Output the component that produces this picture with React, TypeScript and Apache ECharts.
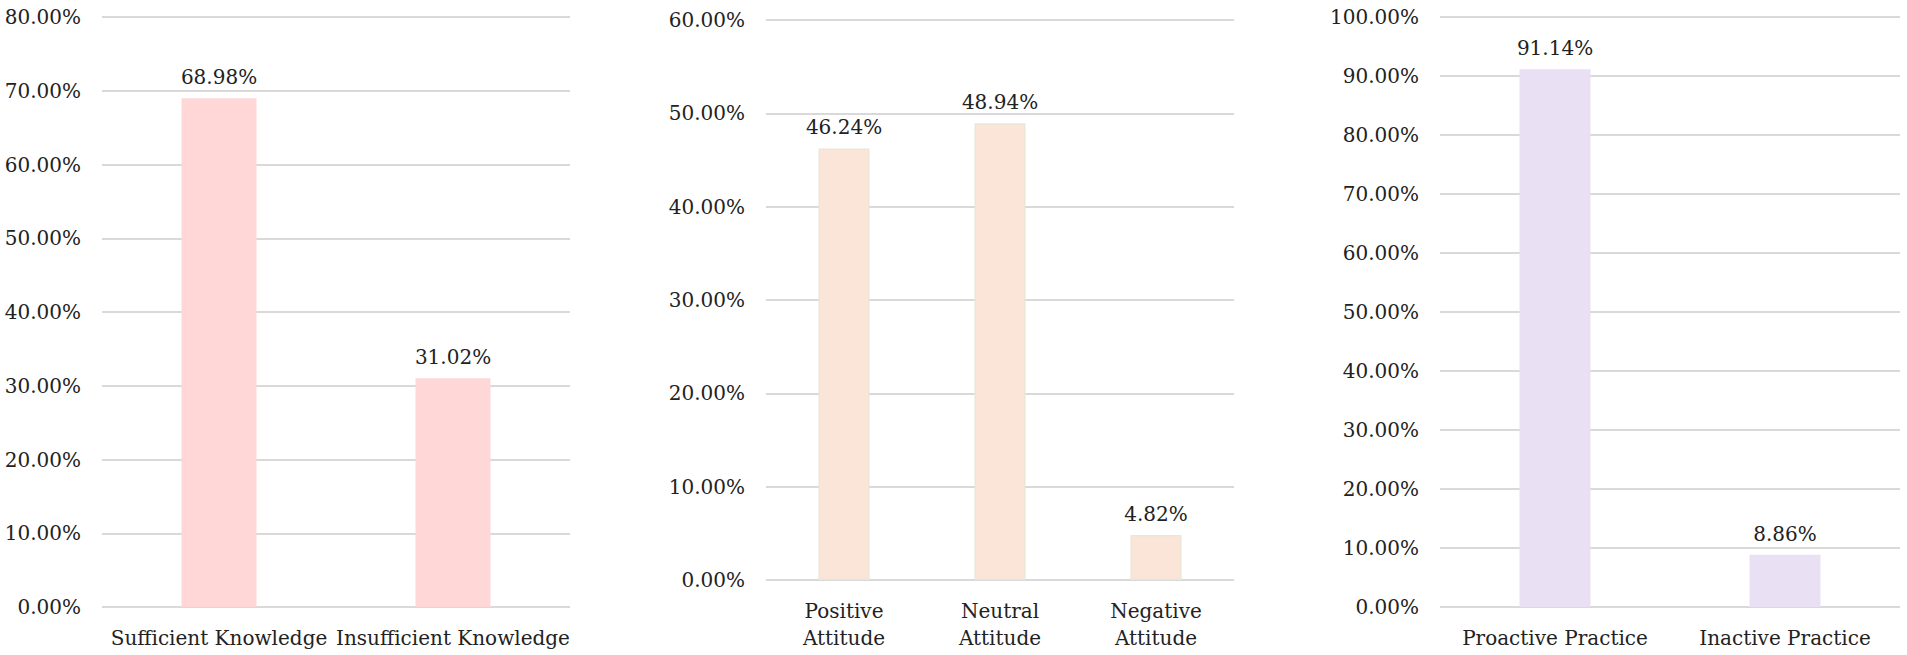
import React, { useEffect, useRef } from "react";
import * as echarts from "echarts";

const knowledgeCategories = ["Sufficient Knowledge", "Insufficient Knowledge"];
const knowledgeValues = [68.98, 31.02];
const attitudeCategories = ["Positive\nAttitude", "Neutral\nAttitude", "Negative\nAttitude"];
const attitudeValues = [46.24, 48.94, 4.82];
const practiceCategories = ["Proactive Practice", "Inactive Practice"];
const practiceValues = [91.14, 8.86];
const axisMaxes = [80, 60, 100];

const FONT = "DejaVu Serif";
const FS = 20;
const TEXT = "#222222";
const GRID = "#d9d9d9";

export default function App() {
  const ref = useRef<HTMLDivElement>(null);
  useEffect(() => {
    document.body.style.margin = "0";
    const chart = echarts.init(ref.current!, null, { renderer: "svg" });
    const grids = [
      { left: 102, top: 17, width: 468, height: 590 },
      { left: 766, top: 20, width: 468, height: 560 },
      { left: 1440, top: 17, width: 460, height: 590 },
    ];
    const cats = [knowledgeCategories, attitudeCategories, practiceCategories];
    const vals = [knowledgeValues, attitudeValues, practiceValues];
    const barWidths = [75, 51, 71];
    const colors = [
      { color: "#ffd7d7", borderColor: "#ffd7d7" },
      { color: "#fbe5d8", borderColor: "#ebe6d6" },
      { color: "#e9e0f4", borderColor: "#e9e0f4" },
    ];
    chart.setOption({
      animation: false,
      textStyle: { fontFamily: FONT },
      grid: grids,
      xAxis: cats.map((c, i) => ({
        type: "category",
        gridIndex: i,
        data: c,
        axisLine: { show: false },
        axisTick: { show: false },
        axisLabel: {
          fontFamily: FONT,
          fontSize: FS,
          color: TEXT,
          margin: 17,
          lineHeight: 27,
          interval: 0,
        },
      })),
      yAxis: axisMaxes.map((m, i) => ({
        type: "value",
        gridIndex: i,
        min: 0,
        max: m,
        interval: 10,
        axisLine: { show: false },
        axisTick: { show: false },
        axisLabel: {
          fontFamily: FONT,
          fontSize: FS,
          color: TEXT,
          margin: 21,
          formatter: (v: number) => v.toFixed(2) + "%",
        },
        splitLine: { lineStyle: { color: GRID, width: 2 } },
      })),
      series: vals.map((v, i) => ({
        type: "bar",
        xAxisIndex: i,
        yAxisIndex: i,
        data: v,
        barWidth: barWidths[i],
        itemStyle: { color: colors[i].color, borderColor: colors[i].borderColor, borderWidth: 1.5 },
        label: {
          show: true,
          position: "top",
          distance: 11,
          fontFamily: FONT,
          fontSize: FS,
          color: TEXT,
          formatter: (p: any) => p.value.toFixed(2) + "%",
        },
      })),
    });
    return () => chart.dispose();
  }, []);
  return <div ref={ref} style={{ width: 1907, height: 655, background: "#fff" }} />;
}
